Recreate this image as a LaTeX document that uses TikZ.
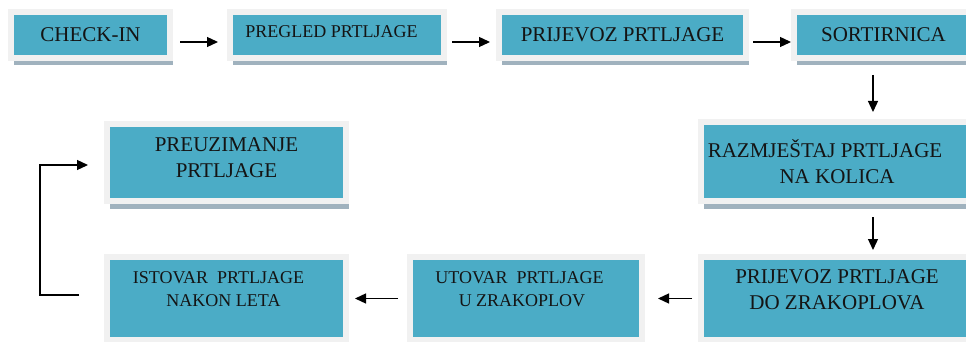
\documentclass[tikz,border=0pt]{standalone}
\usepackage{fontspec}
\setmainfont{Liberation Serif}
\usetikzlibrary{arrows.meta,shadows}

\definecolor{boxteal}{RGB}{75,172,198}
\definecolor{boxframe}{RGB}{241,241,241}
\definecolor{boxshadow}{RGB}{160,178,190}
\definecolor{boxtext}{RGB}{20,20,20}

\newcommand{\bigtext}{\fontsize{21}{26}\selectfont}
\newcommand{\smalltext}{\fontsize{18}{23}\selectfont}

\tikzset{
  stepbox/.style={draw=boxframe, line width=6pt, fill=boxteal, text=boxtext,
    align=center, inner sep=0pt, font=\bigtext,
    drop shadow={shadow xshift=3pt, shadow yshift=-7.5pt, fill=boxshadow, opacity=1}},
  flow/.style={-{Triangle[length=11pt,width=10pt]}, line width=1.3pt},
}

\begin{document}
\begin{tikzpicture}[x=1pt,y=-1pt]
	\clip (0,0) rectangle (966,342);
	% first row
	\node[stepbox, minimum width=159pt, minimum height=46pt] (checkin) at (90.5,35) {CHECK-IN};
	\node[stepbox, minimum width=214pt, minimum height=46pt, font=\smalltext, text depth=6pt] (pregled) at (337,35) {PREGLED PRTLJAGE\kern11pt};
	\node[stepbox, minimum width=247pt, minimum height=46pt] (prijevoz) at (622.5,35) {PRIJEVOZ PRTLJAGE};
	\node[stepbox, minimum width=179pt, minimum height=46pt] (sort) at (883.5,35) {SORTIRNICA};
	% second row
	\node[stepbox, minimum width=239pt, minimum height=77pt, text depth=10pt] (preuz) at (226.5,162.5) {PREUZIMANJE\\PRTLJAGE};
	\node[stepbox, minimum width=272pt, minimum height=79pt] (razm) at (837,161.5) {RAZMJEŠTAJ PRTLJAGE\kern24pt\\NA KOLICA};
	% third row
	\node[stepbox, minimum width=239pt, minimum height=83pt, font=\smalltext, text depth=19pt] (istovar) at (226.5,298.5) {ISTOVAR\ \ PRTLJAGE\kern16pt\\NAKON LETA\kern6pt};
	\node[stepbox, minimum width=232pt, minimum height=83pt, font=\smalltext, text depth=19pt] (utovar) at (526,298.5) {UTOVAR\ \ PRTLJAGE\kern13pt\\U ZRAKOPLOV\kern8pt};
	\node[stepbox, minimum width=272pt, minimum height=83pt, text depth=17pt] (dozrak) at (837,298.5) {PRIJEVOZ PRTLJAGE\\DO ZRAKOPLOVA};
	% arrows
	\draw[flow, shorten <=7pt, shorten >=9pt] ([yshift=-7pt]checkin.east) -- ([yshift=-7pt]pregled.west);
	\draw[flow, shorten <=5pt, shorten >=6pt] ([yshift=-7pt]pregled.east) -- ([yshift=-7pt]prijevoz.west);
	\draw[flow, shorten <=4pt] ([yshift=-7pt]prijevoz.east) -- ([yshift=-7pt]sort.west);
	\draw[flow, shorten <=14pt, shorten >=7pt] ([xshift=-10.5pt]sort.south) -- ([xshift=-10.5pt]sort.south |- razm.north);
	\draw[flow, shorten <=13pt, shorten >=4pt] ([xshift=36pt]razm.south) -- ([xshift=36pt]razm.south |- dozrak.north);
	\draw[flow, shorten <=6pt, shorten >=13pt] (dozrak.west) -- (utovar.east);
	\draw[flow, shorten <=9pt, shorten >=6pt] (utovar.west) -- (istovar.east);
	\coordinate (ret) at (40,230);
	\draw[flow] ([shift={(-25pt,3.5pt)}]istovar.west) -| (ret) |- ([shift={(-16pt,-2.5pt)}]preuz.west);
\end{tikzpicture}
\end{document}
